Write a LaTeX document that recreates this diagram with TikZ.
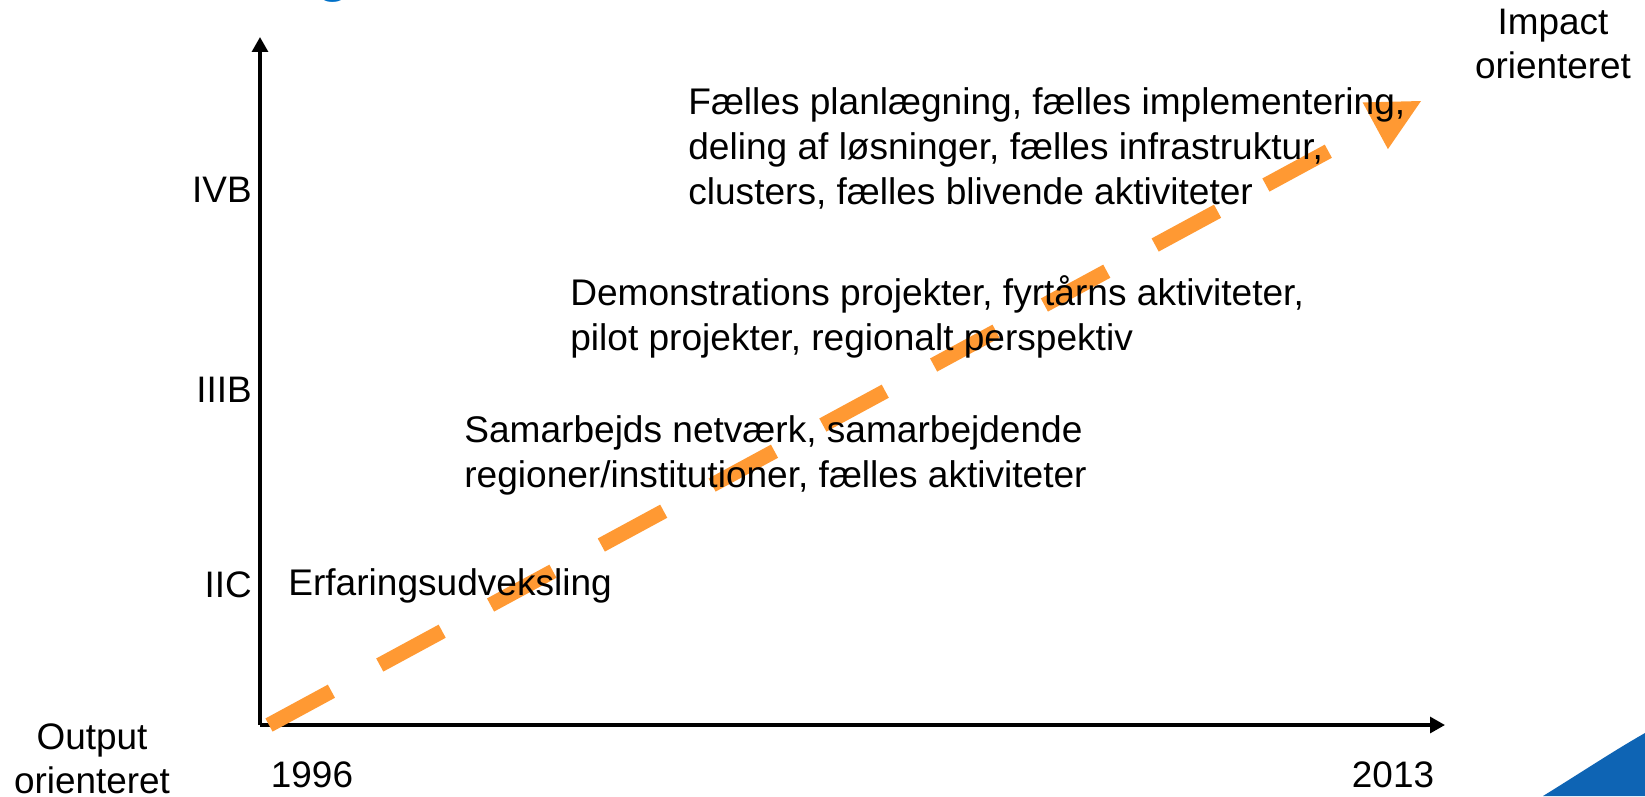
\documentclass[tikz,border=0pt]{standalone}
\usepackage{fontspec}
\setmainfont{Liberation Sans}
\usetikzlibrary{arrows.meta,calc}
\definecolor{trendorange}{RGB}{255,153,51}
\definecolor{logoblue}{RGB}{14,100,180}
\definecolor{titleblue}{RGB}{0,112,200}

\begin{document}
\begin{tikzpicture}[x=0.02cm, y=-0.02cm,
        axis/.style={line width=1.9pt, -{Triangle[length=8.5pt,width=9pt]}},
        trend/.style={trendorange, line width=8.5pt, dash pattern=on 40.4pt off 31.3pt},
        lab/.style={inner sep=0pt, font=\fontsize{21}{24.5}\selectfont},
        level/.style={lab, anchor=base east},
        block/.style={inner sep=0pt, align=left, anchor=base west,
            font=\fontsize{21.1}{25.6}\selectfont}]
            \useasboundingbox (0, 0) rectangle (1645, 796);
            % cut title and logo corner
            \begin{scope}
                \clip (0, 0) rectangle (1645, 796);
                \node[anchor=base, inner sep=0pt, text=titleblue,
                    font=\fontsize{32}{32}\selectfont\bfseries] (titleg) at (334, -10) {g};
            \end{scope}
            \fill[logoblue] (1543, 796) .. controls (1585, 770) and (1615, 750) .. (1645, 733)
                -- (1645, 796) -- cycle;
            % axes
            \coordinate (origin) at (260, 725);
            \coordinate (ytop) at (260, 37);
            \coordinate (xend) at (1445, 725);
            \draw[axis] (origin) -- (ytop);
            \draw[axis] (origin) -- (xend);
            \node[level] (iic) at (252, 597) {IIC};
            \node[level] (iiib) at (252, 402) {IIIB};
            \node[level] (ivb) at (252, 202) {IVB};
            \node[lab, anchor=base] (yr1996) at (312, 787) {1996};
            \node[lab, anchor=base] (yr2013) at (1393, 787) {2013};
            % base anchor sits on the last line
            \node[lab, anchor=base, align=center] (output) at (92, 793) {Output\\orienteret};
            \node[lab, anchor=base, align=center] (impact) at (1553, 78) {Impact\\orienteret};
            % trend arrow
            \coordinate (trendstart) at (269, 725);
            \coordinate (trendtip) at (1421, 101);
            \coordinate (trendbase) at ($(trendtip)!29.6pt!(trendstart)$);
            \draw[trend] (trendstart) -- (trendbase);
            \fill[trendorange] (trendtip) -- ($(trendbase)!15.1pt!90:(trendtip)$)
                -- ($(trendbase)!15.1pt!-90:(trendtip)$) -- cycle;
            % stages
            \node[block] (erfaring) at (288, 595) {Erfaringsudveksling};
            \node[block] (samarbejde) at (464, 487)
                {Samarbejds netværk, samarbejdende\\regioner/institutioner, fælles aktiviteter};
            \node[block] (demo) at (570, 350)
                {Demonstrations projekter, fyrtårns aktiviteter,\\pilot projekter, regionalt perspektiv};
            \node[block] (faelles) at (688, 204)
                {Fælles planlægning, fælles implementering,\\deling af løsninger, fælles infrastruktur,\\clusters, fælles blivende aktiviteter};
    \end{tikzpicture}
\end{document}
